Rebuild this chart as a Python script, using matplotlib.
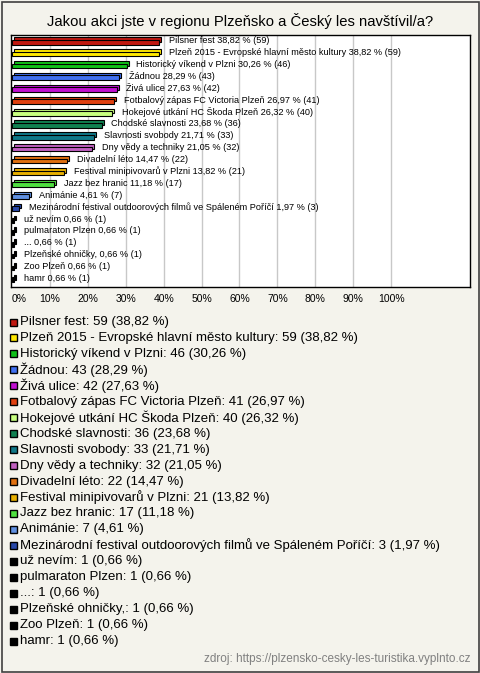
import matplotlib
matplotlib.use("Agg")
import matplotlib.pyplot as plt
import matplotlib.transforms as mtransforms
from matplotlib.patches import Rectangle

# Daten
names = ["Pilsner fest", "Plzeň 2015 - Evropské hlavní město kultury",
         "Historický víkend v Plzni", "Žádnou", "Živá ulice",
         "Fotbalový zápas FC Victoria Plzeň", "Hokejové utkání HC Škoda Plzeň",
         "Chodské slavnosti", "Slavnosti svobody", "Dny vědy a techniky",
         "Divadelní léto", "Festival minipivovarů v Plzni", "Jazz bez hranic",
         "Animánie", "Mezinárodní festival outdoorových filmů ve Spáleném Poříčí",
         "už nevím", "pulmaraton Plzen", "...", "Plzeňské ohničky,", "Zoo Plzeň", "hamr"]
counts = [59, 59, 46, 43, 42, 41, 40, 36, 33, 32, 22, 21, 17, 7, 3, 1, 1, 1, 1, 1, 1]
percents = [38.82, 38.82, 30.26, 28.29, 27.63, 26.97, 26.32, 23.68, 21.71, 21.05,
            14.47, 13.82, 11.18, 4.61, 1.97, 0.66, 0.66, 0.66, 0.66, 0.66, 0.66]
colors = ["#c01810", "#ffe800", "#10c018", "#4070f0", "#c010d0", "#e04010",
          "#c8ff80", "#108050", "#107888", "#c060c0", "#e07010", "#e8b000",
          "#50e040", "#6090e0", "#2848a8", "#000000", "#000000", "#000000",
          "#000000", "#000000", "#000000"]
ticks = list(range(0, 101, 10))


def fmt(v):
    return f"{v:.2f}".replace(".", ",")


W, H = 480, 673
fig = plt.figure(figsize=(W / 100, H / 100), dpi=100)
fig.patch.set_facecolor("#f4f3ec")
plt.rcParams['font.family'] = ['Liberation Sans', 'DejaVu Sans']

# Rahmen
fig.add_artist(Rectangle((1.5 / W, 1.5 / H), 1 - 3 / W, 1 - 3 / H, transform=fig.transFigure,
                         fill=False, edgecolor="#404040", linewidth=1.2))

fig.text(0.5, 1 - 21 / H, "Jakou akci jste v regionu Plzeňsko a Český les navštívil/a?",
         ha="center", va="center", fontsize=10.6)

ax = fig.add_axes([11 / W, 1 - 287 / H, 459 / W, 252 / H])
ax.set_facecolor("white")
ax.set_xlim(-0.26, 120.8)
ax.set_ylim(20.6, -0.6)
for t in ticks[1:]:
    ax.axvline(t, color="#c8c8c8", linewidth=1, zorder=0)

y = list(range(len(names)))
shift = mtransforms.offset_copy(ax.transData, fig=fig, x=2, y=2.5, units="dots")
ax.barh(y, percents, height=0.4, color=colors, edgecolor="black", linewidth=0.8,
        transform=shift, zorder=2)
ax.barh(y, percents, height=0.4, color=colors, edgecolor="black", linewidth=0.8, zorder=3)

for i in range(len(names)):
    ax.annotate(f"{names[i]} {fmt(percents[i])} % ({counts[i]})", (percents[i], i),
                xytext=(7, 1), textcoords="offset points", va="center", ha="left",
                fontsize=6.6, zorder=4)

ax.set_xticks(ticks)
ax.set_xticklabels([f"{t}%" for t in ticks], fontsize=7.5)
ax.get_xticklabels()[0].set_horizontalalignment("left")
ax.tick_params(axis="x", length=0, pad=5)
ax.set_yticks([])
for s in ax.spines.values():
    s.set_color("black")
    s.set_linewidth(1)

# Legende
for i in range(len(names)):
    yc = 1 - (322 + i * 15.95) / H
    fig.add_artist(Rectangle((9.5 / W, yc - 3.5 / H), 7 / W, 7 / H, transform=fig.transFigure,
                             facecolor=colors[i], edgecolor="black", linewidth=1))
    fig.text(20 / W, yc, f"{names[i]}: {counts[i]} ({fmt(percents[i])} %)",
             ha="left", va="center", fontsize=9.5)

fig.text(470 / W, 1 - 659 / H, "zdroj: https://plzensko-cesky-les-turistika.vyplnto.cz",
         ha="right", va="center", fontsize=8.5, color="#808080")

fig.savefig("out.png", dpi=100, facecolor=fig.get_facecolor())
